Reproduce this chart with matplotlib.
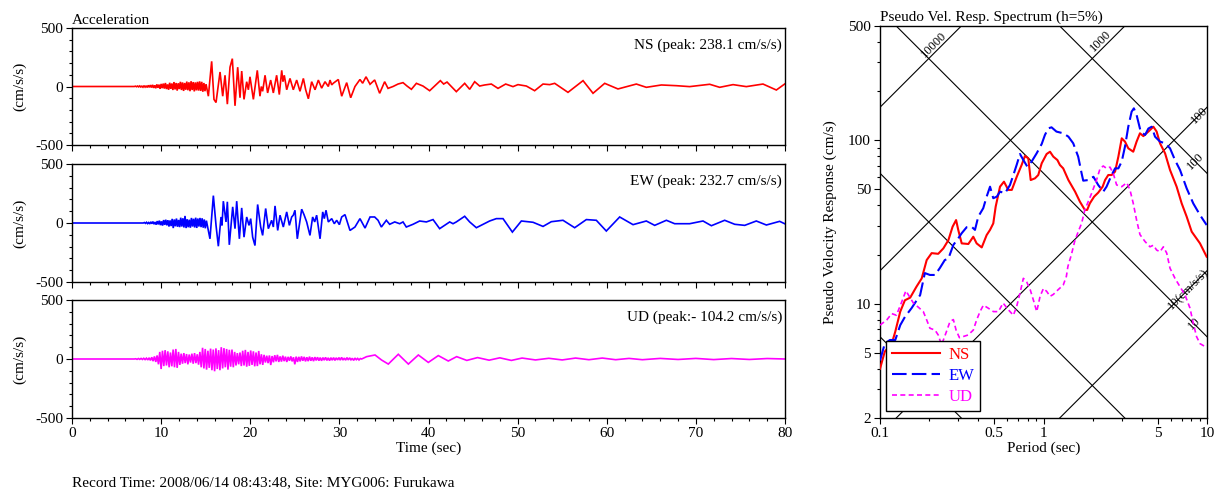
import numpy as np
import matplotlib
matplotlib.use("Agg")
import matplotlib.pyplot as plt
from matplotlib.ticker import MultipleLocator, FixedLocator, FixedFormatter, NullFormatter

plt.rcParams['font.family'] = ['Liberation Serif', 'DejaVu Serif']
plt.rcParams['axes.unicode_minus'] = False
FS = 11

# ---------------- Acceleration records ----------------
# NS: dense low-level segment (uniform sampling) + read extrema
ns_noise_start, ns_noise_step = 7.0, 0.12
ns_noise_v = [0, 3, -2, 4, -3, 5, -4, 3, -6, 7, -5, 6,
              -8, 10, -7, 12, -9, 14, -12, 10, -15, 18, -11, 16,
              -20, 22, -14, 25, -18, 30, -22, 18, -28, 32, -20, 26,
              -30, 38, -25, 30, -35, 28, -22, 40, -30, 35, -38, 30,
              -28, 42, -32, 36, -40, 45, -30, 38, -42, 35, -33, 40,
              -35, 44, -38, 40, -45, 30, -40, 20]
ns_t = [15.30, 15.67, 15.93, 16.16, 16.61, 16.91, 17.17, 17.43, 17.73, 17.99, 18.29, 18.59,
        18.85, 19.04, 19.30, 19.60, 19.79, 19.97, 20.35, 20.79, 21.09, 21.24, 21.39, 21.66,
        21.95, 22.29, 22.59, 22.96, 23.26, 23.53, 23.67, 23.82, 24.09, 24.46, 24.83, 25.21,
        25.58, 25.96, 26.22, 26.52, 26.89, 27.27, 27.64, 28.01, 28.39, 28.76, 28.95, 29.14,
        29.32, 29.88, 30.26, 30.82, 31.27, 31.75, 32.31, 32.61, 32.99, 33.44,
        33.96, 34.52, 35.08, 35.46, 36.02, 36.58, 37.14, 37.59, 38.08, 38.64, 39.38, 40.13,
        40.69, 41.33, 41.70, 42.08, 43.12, 44.06, 44.62, 45.18, 45.74, 46.30, 47.05, 47.80,
        48.66, 49.48, 50.04, 50.98, 51.91, 52.85, 53.60, 54.16, 55.65, 57.34, 58.46, 59.77,
        61.26, 63.32, 64.44, 66.13, 67.81, 69.30, 71.55, 72.67, 74.17, 75.66, 77.53, 79.03, 79.96]
ns_v = [-83, 215, -110, -137, 124, -83, 96, -151, 165, 238, -165, 165,
        -96, 132, -110, 41, -28, 83, -110, 138, -83, 0, -41, 96,
        -55, 55, -55, 96, -69, 138, 41, 96, -28, 69, -28, 55,
        -41, 69, -28, -105, 41, -28, 55, -14, 41, 0, 55, 14,
        28, 60, -83, 33, -96, 0, 60, 28, 83, 19,
        56, -58, 41, -16, 0, 21, 33, 4, -24, 27, 4, -36,
        4, 50, 21, 38, -44, 27, -24, 41, 4, 13, 21, -16,
        21, -1, 16, 4, -36, 21, 16, 27, -50, 50, -58, 27,
        -21, 21, -7, 13, 7, -1, 19, -7, 16, -1, 21, -30, 21]

ew_noise_start, ew_noise_step = 8.0, 0.12
ew_noise_v = [0, 4, -3, 6, -5, 4, -8, 10, -6, 12, -10, 8,
              -14, 16, -12, 20, -18, 14, -22, 25, -16, 28, -20, 24,
              -30, 22, -26, 35, -43, 30, -28, 38, -32, 26, -35, 45,
              -30, 40, -38, 60, -43, 32, -36, 28, -40, 43, -30, 36,
              -38, 45, -42, 38, -30, 43, -35, 40, -40, 30, -45, 20]
ew_t = [15.30, 15.48, 15.86, 16.16, 16.42, 16.72, 16.83, 16.98, 17.28, 17.43, 17.65, 18.03,
        18.29, 18.48, 18.78, 19.04, 19.30, 19.60, 19.86, 20.05, 20.27, 20.53, 20.83, 21.17,
        21.39, 21.73, 22.03, 22.40, 22.59, 22.78, 23.08, 23.34, 23.71, 24.09, 24.39, 24.65,
        24.83, 25.02, 25.28, 25.77, 26.03, 26.33, 26.70, 27.00, 27.23, 27.45, 27.83, 28.13,
        28.31, 28.50, 28.76, 29.14, 29.43, 29.70, 30.00, 30.26, 30.63, 31.19, 31.75, 32.31,
        32.88, 33.44, 33.96, 34.34, 34.71, 35.27, 35.64, 36.21, 36.77, 37.14, 37.51, 38.26,
        39.01, 39.76, 40.51, 41.25, 42.38, 42.75, 43.12, 44.06, 44.62, 45.37, 46.12, 46.86,
        47.61, 48.36, 49.41, 50.42, 51.73, 52.85, 53.78, 55.09, 56.40, 57.71, 58.83, 59.95,
        61.45, 62.95, 64.44, 65.38, 66.69, 67.62, 69.30, 70.80, 71.74, 73.23, 74.36, 75.48,
        76.78, 77.91, 79.40, 79.96]
ew_v = [-63, -134, 232, -20, -197, 51, -20, 185, 9, 180, -185, 137,
        -48, 185, -134, 128, -120, 51, -20, 37, -120, -191, 157, -34,
        -105, 123, -48, 23, -34, 145, -63, 66, -34, 94, -20, 51,
        66, 108, -134, 117, 71, 9, -105, 51, 9, 66, -134, 94,
        37, 108, 9, 37, -6, 23, -14, 51, 71, -63, -34, 37,
        -43, 51, 51, 23, -34, 23, -11, 9, -6, 9, -34, -11,
        17, 9, 29, -48, 9, -6, 9, 57, 9, -40, -11, 17,
        37, 37, -77, 17, 6, -29, 11, 23, -40, 29, 23, -68,
        51, -14, 17, -20, 23, -6, -6, 17, -23, 23, -11, -20,
        17, -17, 14, -6]

ud_noise_start, ud_noise_step = 7.0, 0.15
ud_noise_v = [0, 2, -3, 4, -3, 5, -4, 6, -5, 7,
              -8, 10, -12, 15, -18, 22, -25, 30, -45, 60,
              -85, 70, -60, 75, -55, 65, -70, 55, -62, 80,
              -70, 85, -75, 60, -50, 45, -40, 50, -35, 42,
              -45, 38, -30, 45, -40, 50, -35, 40, -48, 60,
              -70, 95, -80, 85, -90, 70, -75, 88, -95, 80,
              -104, 90, -85, 75, -95, 100, -80, 92, -70, 85,
              -90, 78, -65, 80, -70, 60, -55, 50, -45, 55,
              -60, 70, -55, 77, -65, 60, -58, 72, -50, 65,
              -62, 55, -60, 68, -45, 40, -50, 35, -30, 28,
              -35, 30, -51, 25, -28, 32, -20, 35, -25, 22,
              -22, 28, -18, 20, -25, 18, -15, 22, -20, 15,
              -45, 20, -25, 18, -20, 22, -15, 18, -20, 15,
              -18, 20, -15, 14, -18, 16, -12, 15, -14, 12,
              -15, 12, -10, 14, -12, 10, -14, 11, -10, 12,
              -12, 10, -8, 12, -10, 14, -9, 8, -10, 12,
              -8, 10, -7, 6, -12, 8, -6, 5, -8, 4]
ud_t = [32.50, 33.06, 34.00, 34.74, 35.49, 36.61, 37.74, 38.86, 39.98, 41.10, 42.22, 43.16,
        44.3, 45.5, 46.8, 48.0, 49.3, 50.5, 52.0, 53.5, 55.0, 56.5, 58.0, 59.5,
        61.0, 62.5, 64.0, 66.0, 68.0, 70.0, 72.0, 74.0, 76.0, 78.0, 80.0]
ud_v = [0, 20, 34, -9, -43, 40, -43, 34, -29, 29, -17, 20,
        -12, 12, -10, 10, -12, 8, -8, 6, -8, 8, -6, 8,
        -6, 5, -6, 5, -4, 5, -5, 4, -4, 4, 0]

components = ["NS", "EW", "UD"]
peak_labels = ["NS (peak: 238.1 cm/s/s)", "EW (peak: 232.7 cm/s/s)", "UD (peak:- 104.2 cm/s/s)"]
colors = ["#ff0000", "#0000ff", "#ff00ff"]

# ---------------- Pseudo velocity response spectra ----------------
ns_T = [0.100, 0.107, 0.118, 0.124, 0.133, 0.142, 0.153, 0.167, 0.180, 0.193, 0.207, 0.227,
        0.244, 0.262, 0.278, 0.292, 0.301, 0.316, 0.347, 0.372, 0.390, 0.419, 0.449, 0.471,
        0.493, 0.510, 0.542, 0.573, 0.609, 0.640, 0.686, 0.735, 0.770, 0.807, 0.835, 0.887,
        0.929, 0.975, 1.045, 1.096, 1.148, 1.216, 1.26, 1.32, 1.42, 1.56, 1.67, 1.79,
        1.85, 1.92, 2.04, 2.16, 2.30, 2.38, 2.49, 2.61, 2.74, 2.87, 3.01, 3.15,
        3.30, 3.54, 3.71, 3.89, 4.08, 4.38, 4.70, 4.92, 5.16, 5.54, 5.94, 6.52,
        7.00, 7.51, 8.06, 9.06, 9.95]
ns_Sv = [4.0, 5.1, 5.7, 6.75, 8.95, 10.5, 10.9, 12.7, 14.3, 18.5, 20.4, 20.2,
         21.8, 24.5, 29.6, 32.5, 28.3, 23.4, 23.2, 25.7, 23.4, 22.1, 26.3, 28.3,
         31.0, 39.3, 52.0, 55.8, 49.7, 49.7, 59.8, 70.6, 80.1, 77.6, 57.1, 58.5,
         61.3, 72.3, 82.4, 85.1, 79.4, 75.7, 70.6, 67.3, 57.1, 48.5, 42.1, 37.5,
         37.5, 41.1, 45.2, 47.8, 52.0, 57.1, 61.3, 61.3, 64.3, 79.4, 102.8, 98.1,
         89.3, 85.1, 98.1, 110.3, 106.0, 113.0, 121.0, 113.0, 95.8, 83.2, 65.8, 52.0,
         41.1, 34.1, 27.6, 23.4, 19.4]
ew_T = [0.100, 0.107, 0.115, 0.124, 0.133, 0.142, 0.156, 0.176, 0.188, 0.202, 0.217, 0.232,
        0.249, 0.262, 0.281, 0.301, 0.316, 0.339, 0.363, 0.381, 0.399, 0.428, 0.449, 0.471,
        0.493, 0.518, 0.542, 0.582, 0.624, 0.654, 0.685, 0.718, 0.753, 0.796, 0.847, 0.908,
        0.975, 1.02, 1.07, 1.12, 1.20, 1.32, 1.42, 1.52, 1.63, 1.71, 1.75, 1.88,
        2.02, 2.16, 2.32, 2.43, 2.61, 2.74, 2.87, 3.01, 3.15, 3.30, 3.46, 3.57,
        3.71, 3.93, 4.18, 4.38, 4.59, 4.81, 5.16, 5.54, 5.94, 6.37, 6.84, 7.51,
        8.24, 9.06, 9.95]
ew_Sv = [4.5, 5.7, 6.0, 6.0, 7.4, 8.3, 9.4, 11.3, 15.4, 15.0, 15.0, 16.5,
         18.5, 18.9, 22.9, 25.1, 27.0, 29.4, 29.6, 28.3, 34.1, 38.4, 45.2, 52.0,
         44.2, 45.2, 48.5, 47.4, 53.3, 61.3, 70.6, 82.4, 75.7, 69.0, 74.2, 83.2,
         94.9, 107.7, 118.3, 120.0, 113.0, 110.3, 105.2, 95.8, 79.4, 62.8, 56.6, 57.1,
         59.8, 53.3, 48.5, 52.0, 61.3, 67.3, 67.3, 74.2, 91.4, 121.0, 149.6, 156.8,
         142.8, 113.0, 107.7, 118.0, 121.0, 105.2, 98.1, 95.8, 89.3, 75.7, 65.8, 50.8,
         41.1, 34.9, 30.3]
ud_T = [0.100, 0.110, 0.118, 0.126, 0.136, 0.144, 0.151, 0.160, 0.172, 0.184, 0.193, 0.202,
        0.217, 0.227, 0.238, 0.255, 0.268, 0.281, 0.292, 0.306, 0.323, 0.346, 0.372, 0.390,
        0.409, 0.429, 0.459, 0.494, 0.530, 0.566, 0.609, 0.654, 0.685, 0.718, 0.753, 0.789,
        0.829, 0.868, 0.909, 0.953, 0.999, 1.046, 1.096, 1.148, 1.230, 1.32, 1.38, 1.41,
        1.48, 1.55, 1.63, 1.71, 1.79, 1.97, 2.11, 2.22, 2.32, 2.43, 2.55, 2.67,
        2.80, 3.01, 3.23, 3.38, 3.54, 3.71, 3.89, 4.18, 4.48, 4.70, 4.92, 5.16,
        5.41, 5.67, 5.94, 6.37, 6.84, 7.34, 7.87, 8.24, 8.63, 9.06, 9.95]
ud_Sv = [7.4, 7.96, 8.7, 8.5, 10.3, 12.0, 11.1, 10.1, 9.5, 8.95, 7.96, 7.08,
         6.9, 6.44, 5.6, 6.76, 7.78, 8.0, 6.9, 6.2, 6.3, 6.44, 6.9, 7.96,
         8.95, 9.8, 9.4, 8.95, 8.95, 10.1, 9.2, 8.5, 9.6, 11.6, 14.3, 13.6,
         12.2, 10.5, 8.95, 11.1, 12.4, 11.9, 11.1, 11.4, 12.2, 13.0, 14.7, 16.9,
         19.9, 24.0, 27.6, 31.0, 37.5, 47.4, 57.1, 67.3, 69.6, 67.3, 68.5, 62.8,
         53.3, 52.0, 55.0, 49.7, 41.1, 32.5, 26.5, 24.0, 22.3, 22.8, 21.3, 20.8,
         22.3, 20.4, 16.5, 14.3, 12.7, 11.3, 9.4, 7.6, 6.3, 5.7, 5.4]

accel_levels = [10, 100, 1000, 10000]      # cm/s/s lines
accel_labels = ["10(cm/s/s)", "100", "1000", "10000"]
disp_levels = [0.1, 1, 10, 100]            # cm lines
disp_labels = ["", "", "10", "100"]

x_ticks = [0.1, 0.5, 1, 5, 10]
x_ticklabels = ["0.1", "0.5", "1", "5", "10"]
y_ticks = [2, 5, 10, 50, 100, 500]
y_ticklabels = ["2", "5", "10", "50", "100", "500"]


def build_trace(start, step, dense, t_pts, v_pts):
    td = start + step * np.arange(len(dense))
    t = np.concatenate([[0.0, start], td[1:], t_pts])
    v = np.concatenate([[0.0, 0.0], np.asarray(dense[1:], float), v_pts])
    return t, v


traces = [build_trace(ns_noise_start, ns_noise_step, ns_noise_v, ns_t, ns_v),
          build_trace(ew_noise_start, ew_noise_step, ew_noise_v, ew_t, ew_v),
          build_trace(ud_noise_start, ud_noise_step, ud_noise_v, ud_t, ud_v)]

W, H = 1223, 491
fig = plt.figure(figsize=(W / 100, H / 100), dpi=100)


def fx(px):
    return px / W


def fy(py):
    return 1 - py / H


panel_px = [(28, 145), (164, 282), (300, 418)]
L, R = 72, 785
for i, ((top, bot), (t, v)) in enumerate(zip(panel_px, traces)):
    ax = fig.add_axes([fx(L), fy(bot), fx(R - L), (bot - top) / H])
    ax.plot(t, v, color=colors[i], lw=1.2, solid_joinstyle='miter')
    ax.set_xlim(0, 80)
    ax.set_ylim(-500, 500)
    ax.set_yticks([-500, 0, 500])
    ax.yaxis.set_minor_locator(MultipleLocator(100))
    ax.xaxis.set_major_locator(MultipleLocator(10))
    ax.xaxis.set_minor_locator(MultipleLocator(2))
    ax.tick_params(which='major', direction='out', length=4.5, width=0.8, labelsize=FS, pad=2)
    ax.tick_params(which='minor', direction='out', length=2.5, width=0.8)
    if i < 2:
        ax.tick_params(axis='x', labelbottom=False)
    for s in ax.spines.values():
        s.set_linewidth(1.0)
    ax.set_ylabel("(cm/s/s)", fontsize=FS, labelpad=6)
    ax.text(0.996, 0.855, peak_labels[i], transform=ax.transAxes, ha='right', va='center',
            fontsize=FS)
    if i == 0:
        ax.text(0.0, 1.01, "Acceleration", transform=ax.transAxes, ha='left', va='bottom',
                fontsize=FS)
    if i == 2:
        ax.set_xlabel("Time (sec)", fontsize=FS, labelpad=1)

fig.text(fx(72), fy(483), "Record Time: 2008/06/14 08:43:48, Site: MYG006: Furukawa",
         ha='left', va='center', fontsize=FS)

# ---------------- Spectrum panel ----------------
sL, sR, sT, sB = 880, 1207, 26, 418
axs = fig.add_axes([fx(sL), fy(sB), fx(sR - sL), (sB - sT) / H])
axs.set_xscale('log')
axs.set_yscale('log')
axs.set_xlim(0.1, 10)
axs.set_ylim(2, 500)

Tend = np.array([0.01, 100.0])
for a in accel_levels:
    axs.plot(Tend, a * Tend / (2 * np.pi), color='black', lw=0.8, zorder=1)
for d in disp_levels:
    axs.plot(Tend, 2 * np.pi * d / Tend, color='black', lw=0.8, zorder=1)

# labels on the tripartite grid
lab_T = {10000: 0.226, 1000: 2.38, 100: 8.93, 10: 7.65}
for a, lab in zip(accel_levels, accel_labels):
    T0 = lab_T[a]
    va = 'bottom' if a >= 1000 else 'center'
    axs.text(T0, a * T0 / (2 * np.pi), lab, rotation=45, rotation_mode='anchor',
             ha='center', va=va, fontsize=9, zorder=2)
dlab_T = {100: 8.45, 10: 8.34}
for d, lab in zip(disp_levels, disp_labels):
    if lab:
        T0 = dlab_T[d]
        axs.text(T0, 2 * np.pi * d / T0, lab, rotation=45, rotation_mode='anchor',
                 ha='center', va='center', fontsize=9, zorder=2)

axs.plot(ns_T, ns_Sv, color=colors[0], lw=1.5, zorder=3, label="NS")
axs.plot(ew_T, ew_Sv, color=colors[1], lw=1.5, dashes=(7, 2.5), zorder=3, label="EW")
axs.plot(ud_T, ud_Sv, color=colors[2], lw=1.2, dashes=(3, 2), zorder=3, label="UD")

axs.xaxis.set_major_locator(FixedLocator(x_ticks))
axs.xaxis.set_major_formatter(FixedFormatter(x_ticklabels))
axs.xaxis.set_minor_locator(FixedLocator([0.2, 0.3, 0.4, 0.6, 0.7, 0.8, 0.9, 2, 3, 4, 6, 7, 8, 9]))
axs.xaxis.set_minor_formatter(NullFormatter())
axs.yaxis.set_major_locator(FixedLocator(y_ticks))
axs.yaxis.set_major_formatter(FixedFormatter(y_ticklabels))
axs.yaxis.set_minor_locator(FixedLocator([3, 4, 6, 7, 8, 9, 20, 30, 40, 60, 70, 80, 90,
                                          200, 300, 400]))
axs.yaxis.set_minor_formatter(NullFormatter())
axs.tick_params(which='major', direction='out', length=4.5, width=0.8, labelsize=FS, pad=2)
axs.tick_params(which='minor', direction='out', length=2.5, width=0.8)
for s in axs.spines.values():
    s.set_linewidth(1.0)
axs.set_xlabel("Period (sec)", fontsize=FS, labelpad=1)
axs.set_ylabel("Pseudo Velocity Response (cm/s)", fontsize=FS, labelpad=8)
axs.text(0.0, 1.005, "Pseudo Vel. Resp. Spectrum (h=5%)", transform=axs.transAxes,
         ha='left', va='bottom', fontsize=FS)

leg = axs.legend(loc='lower left', bbox_to_anchor=(0.018, 0.018), borderaxespad=0,
                 fontsize=FS + 1, handlelength=2.9, labelspacing=0.3, handletextpad=0.5,
                 borderpad=0.35, fancybox=False, framealpha=1, edgecolor='black')
leg.get_frame().set_linewidth(1.0)
for txt, c in zip(leg.get_texts(), colors):
    txt.set_color(c)
leg.set_zorder(5)

fig.savefig("out.png", dpi=100)
